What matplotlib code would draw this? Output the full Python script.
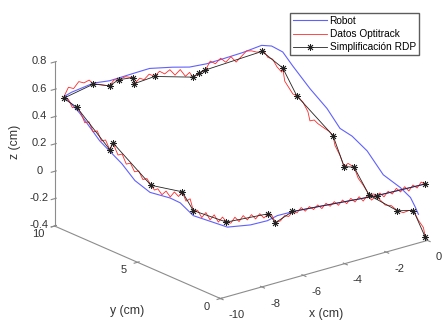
import numpy as np
import matplotlib
matplotlib.use("Agg")
import matplotlib.pyplot as plt
from mpl_toolkits.mplot3d import proj3d

plt.rcParams["font.family"] = ["Liberation Sans", "DejaVu Sans"]
plt.rcParams["axes.unicode_minus"] = False

# bordes aproximados del recorrido cuadrado (cm)
X_LEFT, X_RIGHT = -9.7, -0.1
Y_BOTTOM, Y_TOP = 0.0, 9.85

# --- Robot (trayectoria teorica) ---
robot_bottom_x = [-0.14, -2.46, -5.17, -6.47, -7.25, -7.73, -8.55, -9.66]
robot_bottom_z = [0.018, 0.032, 0.070, 0.087, 0.090, 0.073, 0.077, 0.108]
robot_left_y = [0.80, 2.01, 2.80, 3.41, 4.62, 5.53, 6.32, 7.65, 8.86, 9.77]
robot_left_z = [0.102, 0.087, 0.139, 0.142, 0.119, 0.157, 0.239, 0.335, 0.474, 0.549]
robot_top_x = [-9.30, -8.24, -7.46, -6.98, -6.35, -5.53, -4.42, -3.60, -2.78, -2.15, -1.04, -0.12]
robot_top_z = [0.557, 0.579, 0.563, 0.565, 0.568, 0.571, 0.533, 0.499, 0.488, 0.490, 0.496, 0.510]
robot_right_y = [9.27, 8.60, 8.00, 6.96, 5.93, 5.15, 4.42, 3.51, 2.54, 1.51, 0.90, 0.60, 0.42]
robot_right_z = [0.535, 0.527, 0.457, 0.346, 0.255, 0.151, 0.133, 0.073, -0.05, -0.089, -0.129, -0.186, -0.227]

# --- Datos Optitrack ---
opt_bottom_x = [-0.14, -0.3, -0.5, -0.7, -0.9, -1.1, -1.3, -1.5, -1.7, -1.9,
                -2.1, -2.3, -2.46, -2.7, -2.9, -3.1, -3.3, -3.5, -3.7, -3.9,
                -4.1, -4.3, -4.5, -4.7, -4.9, -5.1, -5.3, -5.5, -5.7, -5.9,
                -6.1, -6.3, -6.52, -6.7, -6.9, -7.1, -7.34, -7.5, -7.68, -7.9,
                -8.1, -8.3, -8.5, -8.7, -8.9, -9.1, -9.3, -9.5, -9.71]
opt_bottom_z = [0.018, 0.04, 0.005, 0.035, 0.0, 0.04, 0.01, 0.045, 0.012, 0.04,
                0.008, 0.045, 0.032, 0.01, 0.055, 0.02, 0.06, 0.03, 0.065, 0.035,
                0.07, 0.04, 0.075, 0.05, 0.08, 0.05, 0.085, 0.06, 0.09, 0.065,
                0.1, 0.07, 0.089, 0.06, 0.075, 0.045, 0.042, 0.1, 0.122, 0.1,
                0.14, 0.11, 0.15, 0.12, 0.16, 0.125, 0.165, 0.13, 0.147]
opt_left_y = [0.0, 0.25, 0.5, 0.75, 1.0, 1.25, 1.5, 1.75, 2.01, 2.2,
              2.45, 2.68, 2.9, 3.15, 3.4, 3.65, 3.9, 4.15, 4.35, 4.56,
              4.8, 5.05, 5.3, 5.55, 5.8, 6.05, 6.3, 6.55, 6.86, 7.04,
              7.3, 7.55, 7.8, 8.05, 8.3, 8.55, 8.8, 9.04, 9.3, 9.55, 9.83]
opt_left_z = [0.147, 0.17, 0.12, 0.16, 0.11, 0.15, 0.1, 0.14, 0.124, 0.2,
              0.17, 0.226, 0.18, 0.2, 0.15, 0.18, 0.14, 0.17, 0.15, 0.174,
              0.21, 0.19, 0.24, 0.22, 0.27, 0.25, 0.31, 0.29, 0.363, 0.302,
              0.36, 0.34, 0.4, 0.38, 0.44, 0.42, 0.48, 0.508, 0.49, 0.54, 0.531]
opt_top_x = [-9.7, -9.45, -9.2, -8.95, -8.7, -8.45, -8.24, -8.0, -7.7, -7.46,
             -7.25, -7.03, -6.7, -6.35, -6.26, -6.0, -5.8, -5.55, -5.29, -5.05,
             -4.8, -4.55, -4.3, -4.05, -3.8, -3.6, -3.45, -3.12, -2.83, -2.6,
             -2.35, -2.1, -1.85, -1.6, -1.35, -1.1, -0.85, -0.6, -0.35, -0.1]
opt_top_z = [0.531, 0.6, 0.58, 0.62, 0.6, 0.61, 0.572, 0.56, 0.54, 0.526,
             0.56, 0.552, 0.56, 0.539, 0.491, 0.52, 0.5, 0.53, 0.502, 0.53,
             0.5, 0.52, 0.47, 0.5, 0.44, 0.46, 0.419, 0.435, 0.445, 0.5,
             0.47, 0.5, 0.46, 0.49, 0.44, 0.47, 0.5, 0.49, 0.47, 0.465]
opt_right_y = [9.85, 9.81, 9.5, 9.21, 8.95, 8.66, 8.6, 8.48, 8.18, 7.99,
               7.75, 7.39, 7.08, 6.96, 6.7, 6.48, 6.05, 5.8, 5.57, 5.45,
               5.15, 4.9, 4.66, 4.3, 4.05, 3.75, 3.39, 3.1, 2.84, 2.42,
               2.05, 1.69, 1.33, 1.0, 0.72, 0.42, 0.12, 0.0]
opt_right_z = [0.465, 0.482, 0.44, 0.442, 0.40, 0.376, 0.41, 0.32, 0.278, 0.252,
               0.251, 0.226, 0.17, 0.11, 0.13, 0.115, 0.101, 0.095, 0.076, 0.01,
               -0.047, -0.115, -0.079, -0.088, -0.156, -0.19, -0.244, -0.22, -0.236, -0.265,
               -0.25, -0.268, -0.263, -0.23, -0.215, -0.271, -0.307, -0.374]

# --- Simplificacion RDP ---
rdp_x = [-0.14, -2.46, -6.52, -7.34, -7.68, -9.71,
         -9.7, -9.7, -9.7, -9.7, -9.7, -9.7, -9.7,
         -8.24, -7.46, -7.03, -6.35, -6.26, -5.29, -3.45, -3.12, -2.83, -0.1,
         -0.1, -0.1, -0.1, -0.1, -0.1, -0.1, -0.1, -0.1, -0.1]
rdp_y = [0.0, 0.0, 0.0, 0.0, 0.0, 0.0,
         2.01, 2.68, 4.56, 6.86, 7.04, 9.04, 9.83,
         9.85, 9.85, 9.85, 9.85, 9.85, 9.85, 9.85, 9.85, 9.85, 9.85,
         8.60, 7.75, 5.57, 4.90, 4.30, 3.39, 1.69, 0.72, 0.0]
rdp_z = [0.018, 0.032, 0.089, 0.042, 0.122, 0.147,
         0.124, 0.226, 0.174, 0.363, 0.302, 0.508, 0.531,
         0.572, 0.526, 0.552, 0.539, 0.491, 0.502, 0.419, 0.435, 0.445, 0.465,
         0.410, 0.251, 0.076, -0.115, -0.088, -0.244, -0.268, -0.215, -0.374]

x_ticks = [-10, -8, -6, -4, -2, 0]
y_ticks = [0, 5, 10]
z_ticks = [-0.4, -0.2, 0, 0.2, 0.4, 0.6, 0.8]
z_ticklabels = ["-0.4", "-0.2", "0", "0.2", "0.4", "0.6", "0.8"]


def square_path(bx, bz, ly, lz, tx, tz, ry, rz):
    xs = np.concatenate([bx, np.full(len(ly), X_LEFT), tx, np.full(len(ry), X_RIGHT)])
    ys = np.concatenate([np.full(len(bx), Y_BOTTOM), ly, np.full(len(tx), Y_TOP), ry])
    zs = np.concatenate([bz, lz, tz, rz])
    return xs, ys, zs


robot = square_path(robot_bottom_x, robot_bottom_z, robot_left_y, robot_left_z,
                    robot_top_x, robot_top_z, robot_right_y, robot_right_z)
opt = square_path(opt_bottom_x, opt_bottom_z, opt_left_y, opt_left_z,
                  opt_top_x, opt_top_z, opt_right_y, opt_right_z)

W, H = 442, 320
TXT = "#333333"
fig = plt.figure(figsize=(W / 100, H / 100), dpi=100)
ax = fig.add_axes([0, 0, 1, 1], projection="3d")

l1, = ax.plot(*robot, color="#6060ff", lw=0.8, label="Robot")
l2, = ax.plot(*opt, color="#ff2a2a", lw=0.6, label="Datos Optitrack")
l3, = ax.plot(rdp_x, rdp_y, rdp_z, color="#222222", lw=0.6, marker=(8, 2, 0),
              markersize=5, markeredgewidth=0.6, label="Simplificación RDP")

ax.set_xlim(-10, 0)
ax.set_ylim(0, 10)
ax.set_zlim(-0.4, 0.8)
ax.set_xticks(x_ticks)
ax.set_xticklabels([str(t) for t in x_ticks], ha="left")
ax.set_yticks(y_ticks)
ax.set_yticklabels([str(t) for t in y_ticks], ha="right", va="baseline")
ax.set_zticks(z_ticks)
ax.set_zticklabels(z_ticklabels, va="center")
ax.tick_params(labelsize=8, labelcolor=TXT, color="#888888")
ax.tick_params(axis="x", pad=-0.5)
ax.tick_params(axis="y", pad=-0.5)
ax.tick_params(axis="z", pad=-1.8)

ax.set_proj_type("ortho")
ax.view_init(elev=20.5, azim=-128.7)
ax.set_box_aspect((1, 1, 0.66))
ax.grid(False)
for axis in (ax.xaxis, ax.yaxis, ax.zaxis):
    axis.pane.set_visible(False)
    axis.line.set_color("#8c8c8c")
    axis.line.set_linewidth(0.8)

# ajustar la caja 3D a la posicion de la figura original
fig.canvas.draw()
corners = np.array([[-10, 0, -0.4], [0, 0, -0.4], [-10, 10, -0.4], [-10, 10, 0.8]])
targets = np.array([[220, 21], [427, 77], [55, 96], [55, 259]], dtype=float)
px, py, _ = proj3d.proj_transform(corners[:, 0], corners[:, 1], corners[:, 2], ax.M)
cur = ax.transData.transform(np.column_stack([px, py]))
bb = ax.get_position()
side = bb.width * W
center = np.array([(bb.x0 + bb.width / 2) * W, (bb.y0 + bb.height / 2) * H])
f = (cur - center) / side
fm, tm = f.mean(axis=0), targets.mean(axis=0)
s = np.sum((f - fm) * (targets - tm)) / np.sum((f - fm) ** 2)
c = tm - s * fm
ax.set_position([(c[0] - s / 2) / W, (c[1] - s / 2) / H, s / W, s / H])

# etiquetas de ejes (horizontales como en MATLAB)
fig.text(326 / W, 6 / H, "x (cm)", fontsize=8.8, color=TXT, ha="center", va="center")
fig.text(127 / W, 9 / H, "y (cm)", fontsize=8.8, color=TXT, ha="center", va="center")
fig.text(15 / W, 178 / H, "z (cm)", fontsize=8.8, color=TXT, ha="center", va="center",
         rotation=90)

fig.legend(handles=[l1, l2, l3], loc="upper left", bbox_to_anchor=(290 / W, 1 - 13 / H),
           fontsize=7.3, frameon=True, fancybox=False, edgecolor=TXT,
           borderaxespad=0, handlelength=3.3, handletextpad=0.3, labelspacing=0.3,
           borderpad=0.3)

fig.savefig("out.png", dpi=100)
